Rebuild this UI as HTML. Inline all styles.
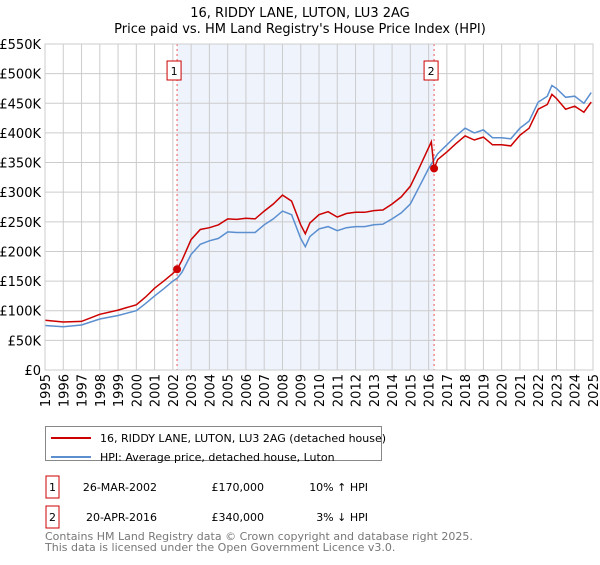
<!DOCTYPE html>
<html><head><meta charset="utf-8"><style>
body{margin:0;background:#fff;font-family:"Liberation Sans","DejaVu Sans",sans-serif;}
svg text{font-family:"DejaVu Sans","Liberation Sans",sans-serif;}
</style></head><body>
<svg id="c" width="600" height="560" xmlns="http://www.w3.org/2000/svg">
<text x="300" y="17" text-anchor="middle" font-size="13">16, RIDDY LANE, LUTON, LU3 2AG</text>
<text x="300" y="33" text-anchor="middle" font-size="13">Price paid vs. HM Land Registry's House Price Index (HPI)</text>
<g id="plot"></g>
<g>
<rect x="45.5" y="426.5" width="336" height="34" fill="#fff" stroke="#888"/>
<line x1="51" y1="438" x2="91" y2="438" stroke="#cc0000" stroke-width="2"/>
<text x="100" y="442" font-size="11">16, RIDDY LANE, LUTON, LU3 2AG (detached house)</text>
<line x1="51" y1="457" x2="91" y2="457" stroke="#5b8fd0" stroke-width="2"/>
<text x="100" y="461" font-size="11">HPI: Average price, detached house, Luton</text>
</g>
<g font-size="11">
<rect x="46" y="476" width="13" height="22" fill="#fff" stroke="#cc0000"/>
<text x="52.5" y="491" text-anchor="middle">1</text>
<text x="157" y="491" text-anchor="end">26-MAR-2002</text>
<text x="264" y="491" text-anchor="end">£170,000</text>
<text x="368" y="491" text-anchor="end">10% ↑ HPI</text>
<rect x="46" y="506" width="13" height="22" fill="#fff" stroke="#cc0000"/>
<text x="52.5" y="521" text-anchor="middle">2</text>
<text x="157" y="521" text-anchor="end">20-APR-2016</text>
<text x="264" y="521" text-anchor="end">£340,000</text>
<text x="368" y="521" text-anchor="end">3% ↓ HPI</text>
</g>
<text x="45" y="540" font-size="11" fill="#777">Contains HM Land Registry data © Crown copyright and database right 2025.</text>
<text x="45" y="551" font-size="11" fill="#777">This data is licensed under the Open Government Licence v3.0.</text>
</svg>
<script>
const hpiYears=[1995,1996,1997,1998,1999,2000,2000.5,2001,2001.5,2002,2002.25,2002.5,2003,2003.5,2004,2004.5,2005,2005.5,2006,2006.5,2007,2007.5,2008,2008.5,2009,2009.25,2009.5,2010,2010.5,2011,2011.5,2012,2012.5,2013,2013.5,2014,2014.5,2015,2015.5,2016,2016.5,2017,2017.5,2018,2018.5,2019,2019.5,2020,2020.5,2021,2021.5,2022,2022.5,2022.75,2023,2023.5,2024,2024.5,2024.9];
const hpiValues=[75,73,76,86,92,100,112,125,137,150,155,165,195,212,218,222,233,232,232,232,245,255,268,262,222,208,225,238,242,235,240,242,242,245,246,255,265,280,310,340,365,380,395,408,400,405,392,392,390,408,420,452,462,480,475,460,462,450,468];
const priceYears=[1995,1996,1997,1998,1999,2000,2000.5,2001,2001.5,2002,2002.23,2002.5,2003,2003.5,2004,2004.5,2005,2005.5,2006,2006.5,2007,2007.5,2008,2008.5,2009,2009.25,2009.5,2010,2010.5,2011,2011.5,2012,2012.5,2013,2013.5,2014,2014.5,2015,2015.5,2016,2016.15,2016.3,2016.5,2017,2017.5,2018,2018.5,2019,2019.5,2020,2020.5,2021,2021.5,2022,2022.5,2022.75,2023,2023.5,2024,2024.5,2024.9];
const priceValues=[84,81,82,94,101,110,123,138,150,163,170,185,220,237,240,245,255,254,256,255,268,280,295,285,245,230,248,262,267,258,264,266,266,269,270,280,292,310,342,375,385,340,355,368,382,395,388,393,380,380,378,396,408,440,448,465,458,440,445,435,452];
const saleYears=[2002.23,2016.3];
const saleValues=[170,340];
const saleLabels=["1","2"];
const yTicks=[0,50,100,150,200,250,300,350,400,450,500,550];
const xTicks=[1995,1996,1997,1998,1999,2000,2001,2002,2003,2004,2005,2006,2007,2008,2009,2010,2011,2012,2013,2014,2015,2016,2017,2018,2019,2020,2021,2022,2023,2024,2025];
const L=45,R=593,T=44,B=370;
const xs=y=>L+(y-1995)/30*(R-L);
const ys=v=>B-v/550*(B-T);
const g=document.getElementById('plot');
const NS='http://www.w3.org/2000/svg';
function mk(t,a){const e=document.createElementNS(NS,t);for(const k in a)e.setAttribute(k,a[k]);g.appendChild(e);return e;}
let e=mk('rect',{x:L,y:T,width:R-L,height:B-T,fill:'#fff'});


e=mk('rect',{x:xs(saleYears[0]),y:T,width:xs(saleYears[1])-xs(saleYears[0]),height:B-T,fill:'#eef3fc'});


yTicks.forEach(v=>{
 e=mk('line',{x1:L,x2:R,y1:ys(v),y2:ys(v),stroke:'#cccccc'});
 
 
 e=mk('text',{x:L-4,y:ys(v)+5,'text-anchor':'end','font-size':'13'});
 e.textContent=v===0?'£0':'£'+v+'K';
 
 
});
xTicks.forEach(y=>{
 const x=xs(y);
 e=mk('line',{x1:x,x2:x,y1:T,y2:B,stroke:'#cccccc'});
 
 
 e=mk('text',{x:0,y:0,'text-anchor':'end','font-size':'13',transform:`translate(${x+5},${B+4}) rotate(-90)`});
 e.textContent=y;
 
 
});
saleYears.forEach((y,i)=>{
 const x=xs(y);
 e=mk('line',{x1:x,x2:x,y1:T,y2:B,stroke:'#ee5555','stroke-dasharray':'2,3'});
 
 
 e=mk('rect',{x:x-10,y:61,width:14,height:19,fill:'#fff',stroke:'#cc0000'});
 
 
 e=mk('text',{x:x-3,y:75,'text-anchor':'middle','font-size':'11'});
 e.textContent=saleLabels[i];
 
 
});
function path(xa,va){return xa.map((y,i)=>(i?'L':'M')+xs(y).toFixed(1)+','+ys(va[i]).toFixed(1)).join('');}
e=mk('path',{d:path(hpiYears,hpiValues),fill:'none',stroke:'#5b8fd0','stroke-width':1.5});


e=mk('path',{d:path(priceYears,priceValues),fill:'none',stroke:'#cc0000','stroke-width':1.5});


saleYears.forEach((y,i)=>{
 e=mk('circle',{cx:xs(y),cy:ys(saleValues[i]),r:4,fill:'#cc0000'});
 
 
});
e=mk('rect',{x:L,y:T,width:R-L,height:B-T,fill:'none',stroke:'#cccccc'});


</script>
</body></html>
